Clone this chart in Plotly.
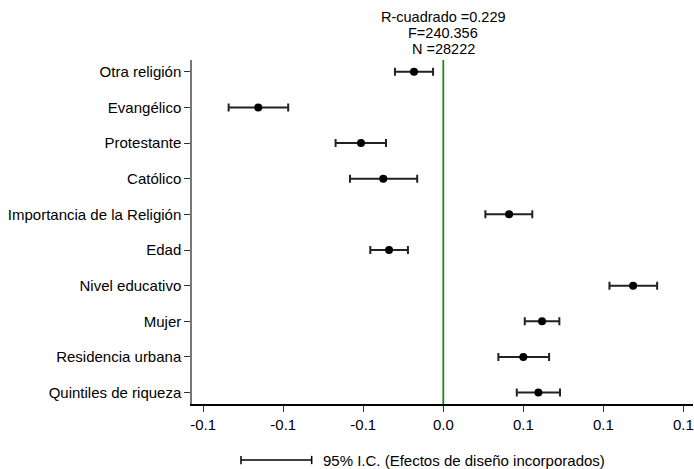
import plotly.graph_objects as go

categories = ["Otra religión", "Evangélico", "Protestante", "Católico",
              "Importancia de la Religión", "Edad", "Nivel educativo",
              "Mujer", "Residencia urbana", "Quintiles de riqueza"]
coef = [-0.0183, -0.1156, -0.0514, -0.0375, 0.0411, -0.0339, 0.1186, 0.0617, 0.0500, 0.0594]
ci_low = [-0.0302, -0.1341, -0.0673, -0.0583, 0.0263, -0.0456, 0.1038, 0.0509, 0.0344, 0.0459]
ci_high = [-0.0064, -0.0969, -0.0358, -0.0163, 0.0556, -0.0221, 0.1336, 0.0725, 0.0661, 0.0729]

tick_vals = [-0.15, -0.10, -0.05, 0.0, 0.05, 0.10, 0.15]
tick_text = ["-0.1", "-0.1", "-0.1", "0.0", "0.1", "0.1", "0.1"]

stats_lines = ["R-cuadrado =0.229", "F=240.356", "N =28222"]
legend_label = "95% I.C. (Efectos de diseño incorporados)"

FONT = "Liberation Sans, Arial, Helvetica, sans-serif"
FS = 15

err_plus = [h - c for h, c in zip(ci_high, coef)]
err_minus = [c - l for l, c in zip(ci_low, coef)]
ypos = list(range(len(categories)))

fig = go.Figure()
fig.add_trace(go.Scatter(
    x=coef, y=ypos, mode="markers",
    marker=dict(color="black", size=8),
    error_x=dict(type="data", symmetric=False, array=err_plus, arrayminus=err_minus,
                 color="#222222", thickness=2, width=4),
    showlegend=False, hoverinfo="skip",
))

fig.add_shape(type="line", xref="x", yref="paper", x0=0, x1=0, y0=0, y1=1,
              line=dict(color="#1a8a1a", width=1.8), layer="below")

# Legend key (CI bar) below the chart
lx0, lx1, ly, cap = 0.0978, 0.2389, -0.1628, 0.012
fig.add_shape(type="line", xref="paper", yref="paper", x0=lx0, x1=lx1, y0=ly, y1=ly,
              line=dict(color="black", width=1.5))
for xx in (lx0, lx1):
    fig.add_shape(type="line", xref="paper", yref="paper", x0=xx, x1=xx,
                  y0=ly - cap, y1=ly + cap, line=dict(color="black", width=1.5))
fig.add_annotation(xref="paper", yref="paper", x=0.2575, y=ly, xanchor="left",
                   yanchor="middle", text=legend_label, showarrow=False,
                   font=dict(family=FONT, size=FS, color="black"))

stat_y = [1.125, 1.0785, 1.032]
for txt, yy in zip(stats_lines, stat_y):
    fig.add_annotation(xref="x", yref="paper", x=0, y=yy, text=txt, showarrow=False,
                       xanchor="center", yanchor="middle",
                       font=dict(family=FONT, size=14.5, color="black"))

fig.update_layout(
    width=694, height=469,
    margin=dict(l=192, r=1, t=60, b=65),
    paper_bgcolor="white", plot_bgcolor="white",
    font=dict(family=FONT, size=FS, color="black"),
    xaxis=dict(range=[-0.157, 0.156], tickvals=tick_vals, ticktext=tick_text,
               showgrid=False, zeroline=False, showline=True, linecolor="black",
               linewidth=1.5, ticks="outside", ticklen=6, tickcolor="#333333",
               tickfont=dict(family=FONT, size=FS, color="black")),
    yaxis=dict(range=[9.32, -0.33], tickvals=ypos, ticktext=categories,
               showgrid=False, zeroline=False, showline=True, linecolor="#777777",
               linewidth=1.5, ticks="outside", ticklen=6, tickcolor="#333333",
               tickfont=dict(family=FONT, size=FS, color="black")),
)

fig.write_html("out.html", config={"displayModeBar": False},
               post_script="document.body.style.margin='0';document.body.style.overflow='hidden';")
